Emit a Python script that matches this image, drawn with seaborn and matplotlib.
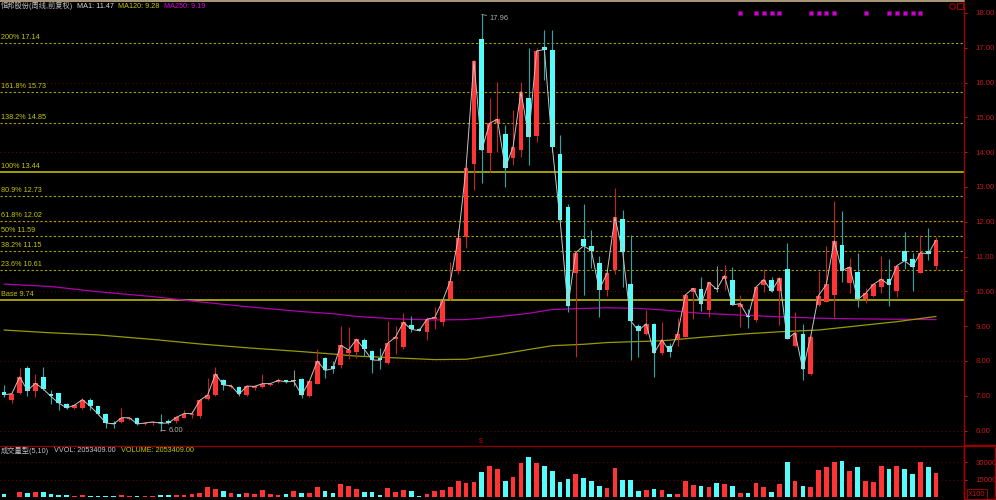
import numpy as np
import matplotlib
matplotlib.use("Agg")
import matplotlib.pyplot as plt
from matplotlib.lines import Line2D
from matplotlib.patches import Rectangle
import seaborn as sns

W, H = 996, 500

# weekly candles
opens = [7.12, 6.89, 7.09, 7.79, 7.15, 7.55, 7.04, 7.07, 6.75, 6.65,
         6.65, 6.89, 6.70, 6.49, 6.22, 6.25, 6.33, 6.36, 6.19, 6.21,
         6.25, 6.27, 6.27, 6.37, 6.46, 6.41, 6.92, 7.02, 7.44, 7.24,
         7.25, 7.01, 7.23, 7.25, 7.31, 7.39, 7.44, 7.42, 7.47, 6.99,
         7.35, 8.08, 7.85, 7.88, 8.24, 8.27, 8.60, 8.29, 8.10, 7.95,
         8.64, 8.40, 9.04, 8.93, 8.84, 9.20, 9.11, 9.78, 10.60, 11.55,
         13.65, 17.24, 13.97, 14.83, 14.52, 13.84, 14.06, 15.55, 14.47, 17.03,
         16.94, 13.95, 12.43, 10.54, 11.52, 11.31, 10.81, 10.03, 10.61, 12.07,
         10.20, 9.01, 8.79, 9.07, 8.22, 8.42, 8.63, 8.70, 9.97, 10.08,
         9.47, 10.06, 10.36, 10.33, 9.54, 9.30, 9.17, 10.17, 10.34, 10.00,
         10.64, 8.44, 8.77, 7.63, 9.61, 9.69, 9.90, 11.34, 10.25, 10.57,
         9.77, 9.87, 10.14, 10.35, 10.00, 11.15, 10.93, 10.54, 11.15, 10.73]
highs = [7.30, 7.09, 7.79, 7.86, 7.62, 7.83, 7.18, 7.09, 6.78, 6.76,
         6.94, 6.94, 6.70, 6.51, 6.27, 6.65, 6.39, 6.39, 6.24, 6.26,
         6.48, 6.32, 6.41, 6.60, 6.55, 6.90, 7.52, 7.83, 7.48, 7.33,
         7.28, 7.31, 7.31, 7.62, 7.38, 7.50, 7.46, 7.73, 7.50, 7.44,
         8.34, 8.12, 8.00, 9.01, 8.98, 8.65, 8.65, 8.31, 8.38, 9.15,
         9.00, 9.39, 9.30, 8.95, 9.25, 9.56, 9.78, 10.84, 11.78, 13.60,
         16.65, 17.96, 15.55, 16.03, 14.78, 15.21, 16.03, 16.98, 16.98, 17.51,
         17.51, 14.49, 12.51, 11.13, 12.51, 11.76, 11.02, 10.55, 12.96, 12.34,
         11.62, 9.06, 9.46, 9.09, 9.11, 8.51, 9.23, 9.91, 10.11, 10.42,
         10.28, 10.73, 10.76, 10.69, 9.90, 9.50, 10.14, 10.64, 10.41, 10.40,
         11.40, 9.41, 9.06, 8.75, 10.60, 11.30, 12.60, 12.32, 10.95, 11.11,
         10.11, 10.22, 11.02, 10.92, 10.77, 11.70, 11.10, 11.62, 11.82, 11.55]
lows = [6.97, 6.80, 7.06, 6.99, 6.97, 7.18, 6.75, 6.60, 6.63, 6.62,
        6.63, 6.60, 6.46, 6.08, 6.08, 6.22, 6.30, 6.15, 6.17, 6.16,
        6.00, 6.19, 6.22, 6.35, 6.36, 6.36, 6.89, 6.99, 7.18, 7.21,
        6.99, 6.99, 7.18, 7.23, 7.28, 7.37, 7.38, 7.27, 6.94, 6.96,
        7.33, 7.52, 7.65, 7.79, 8.05, 8.10, 8.14, 7.66, 7.76, 7.92,
        8.20, 8.34, 8.82, 8.85, 8.60, 8.91, 9.01, 9.75, 10.50, 11.24,
        12.91, 13.12, 13.44, 14.02, 13.01, 13.63, 13.87, 13.63, 14.30, 16.07,
        14.00, 12.00, 9.42, 8.12, 9.90, 10.68, 9.27, 9.88, 10.49, 10.14,
        8.04, 8.12, 8.76, 7.53, 8.18, 8.11, 8.42, 8.68, 9.20, 9.44,
        9.26, 9.99, 10.04, 9.60, 8.98, 8.94, 9.11, 9.98, 9.98, 9.03,
        8.62, 8.41, 7.46, 7.60, 9.59, 9.69, 9.26, 10.28, 9.96, 9.54,
        9.66, 9.85, 9.96, 9.58, 9.85, 10.64, 10.02, 10.52, 10.90, 10.62]
closes = [7.03, 7.06, 7.54, 7.15, 7.36, 7.20, 6.98, 6.79, 6.65, 6.73,
          6.89, 6.70, 6.48, 6.22, 6.19, 6.37, 6.37, 6.19, 6.22, 6.25,
          6.21, 6.22, 6.38, 6.49, 6.49, 6.87, 7.02, 7.63, 7.31, 7.29,
          7.04, 7.28, 7.27, 7.35, 7.35, 7.44, 7.40, 7.42, 7.02, 7.42,
          8.00, 7.73, 7.78, 8.45, 8.32, 8.62, 8.34, 8.03, 8.02, 8.51,
          8.69, 9.11, 8.91, 8.87, 9.20, 9.25, 9.73, 10.31, 11.53, 13.56,
          16.62, 14.06, 14.83, 14.95, 13.54, 14.16, 15.74, 14.45, 16.91, 16.95,
          14.16, 12.05, 9.58, 11.11, 11.31, 11.17, 10.05, 10.52, 12.13, 11.13,
          9.16, 8.87, 9.07, 8.22, 8.61, 8.27, 8.77, 9.90, 10.09, 9.63,
          10.26, 10.06, 10.45, 9.61, 9.65, 9.26, 10.12, 10.34, 10.00, 10.38,
          8.64, 8.81, 7.76, 8.70, 9.88, 10.20, 11.45, 10.60, 10.70, 9.77,
          9.94, 10.20, 10.35, 10.19, 10.74, 10.88, 10.70, 11.11, 11.08, 11.47]
# volume in hundreds of shares (axis says X100)
volumes = [2300, 300, 4600, 3500, 4300, 4300, 2300, 1400, 1400, 1150,
           1400, 900, 900, 900, 900, 1700, 1150, 900, 600, 900,
           1700, 1700, 1700, 1700, 2300, 3750, 8900, 6600, 5200, 3200,
           2300, 3750, 2900, 5800, 2900, 1400, 2600, 5200, 3500, 3750,
           8900, 5200, 3460, 11000, 9200, 6900, 4000, 4000, 2000, 7800,
           4600, 6000, 5200, 1150, 2300, 4900, 6000, 8650, 13800, 11800,
           13300, 21300, 27100, 24200, 13800, 17300, 29100, 34300, 29100, 27100,
           22500, 13300, 15900, 19600, 16700, 13800, 9800, 8100, 25100, 14700,
           14700, 5200, 6000, 6600, 6300, 2300, 2900, 14100, 10400, 9500,
           8400, 12400, 11000, 9800, 3460, 3200, 12400, 8400, 4300, 11250,
           30000, 13800, 9500, 8400, 23000, 25700, 30600, 31000, 22500, 25700,
           13800, 13300, 26500, 23900, 26500, 24200, 19600, 30000, 26200, 20534.09]

# long moving averages, read at a few candles
ma_idx = [0, 6, 12, 19, 25, 31, 38, 42, 45, 50, 55, 59, 63,
          67, 70, 74, 77, 81, 84, 89, 94, 99, 104, 109, 114, 119]
ma120 = [8.89, 8.81, 8.75, 8.62, 8.49, 8.38, 8.27, 8.20, 8.14, 8.09, 8.04, 8.05, 8.18,
         8.33, 8.44, 8.48, 8.53, 8.56, 8.58, 8.68, 8.77, 8.84, 8.89, 9.01, 9.13, 9.28]
ma250 = [10.21, 10.14, 9.99, 9.85, 9.70, 9.56, 9.42, 9.36, 9.28, 9.21, 9.18, 9.19, 9.27,
         9.37, 9.48, 9.51, 9.53, 9.51, 9.47, 9.37, 9.32, 9.27, 9.23, 9.21, 9.20, 9.19]

fib_names = ['200%', '161.8%', '138.2%', '100%', '80.9%', '61.8%', '50%', '38.2%', '23.6%', 'Base']
fib_levels = [17.14, 15.73, 14.85, 13.44, 12.73, 12.02, 11.59, 11.15, 10.61, 9.74]
solid_fibs = ['100%', 'Base']

price_ticks = [6, 7, 8, 9, 10, 11, 12, 13, 14, 15, 16, 17, 18]
grid_levels = [6, 8, 10, 12, 14, 16]
vol_ticks = [15000, 30000]
signal_idx = [94, 96, 97, 98, 99, 103, 104, 105, 106, 110, 113, 114, 115, 116, 117]
high_idx, low_idx = 61, 20

RED, CYAN, GRAY = '#ff3434', '#54fcfc', '#b4b4b4'
AXRED = '#c01818'
YEL = '#c8c800'

sns.set_style('dark', {'axes.facecolor': 'black', 'figure.facecolor': 'black'})
plt.rcParams['font.family'] = ['Liberation Sans', 'Noto Sans CJK SC', 'DejaVu Sans']

fig = plt.figure(figsize=(W / 100, H / 100), dpi=100, facecolor='black')


def fy(y):
    return 1 - y / H


ax = fig.add_axes([0, fy(445), 964 / W, 443 / H])
axv = fig.add_axes([0, fy(497), 964 / W, 52 / H], sharex=ax)

dx = (936 - 4) / 119
x_left = -4 / dx
ax.set_xlim(x_left, x_left + 964 / dx)
ax.set_ylim(18 - (445 - 13) / 34.8, 18 + 11 / 34.8)
axv.set_ylim(0, 30000 * 52 / 34.7)

for a in (ax, axv):
    a.set_facecolor('black')
    a.grid(False)
    for s in ('left', 'top', 'bottom'):
        a.spines[s].set_visible(False)
    a.spines['right'].set_color('#a00000')
    a.spines['right'].set_linewidth(1.0)
    a.tick_params(axis='x', bottom=False, labelbottom=False)
    a.yaxis.tick_right()
    a.tick_params(axis='y', colors=AXRED, labelsize=5.6, length=2.5, width=0.7, pad=6)

ax.set_yticks(price_ticks)
ax.set_yticklabels([f'{v:.2f}' for v in price_ticks])
axv.set_yticks(vol_ticks)
axv.set_yticklabels([str(v) for v in vol_ticks])

# grid and fibonacci levels
for g in grid_levels:
    ax.axhline(g, color='#700000', lw=0.7, ls=(0, (1, 3)), zorder=1)
for v in vol_ticks:
    axv.axhline(v, color='#700000', lw=0.7, ls=(0, (1, 3)), zorder=1)

for name, lev in zip(fib_names, fib_levels):
    if name in solid_fibs:
        ax.axhline(lev, color='#a0a000', lw=1.4, zorder=2)
    else:
        ax.axhline(lev, color='#a8a800', lw=0.8, ls=(0, (2, 2)), zorder=2)
    ax.annotate(f'{name} {lev:.2f}', xy=(x_left, lev), xytext=(1, 2), textcoords='offset pixels',
                color=YEL, fontsize=5.2, ha='left', va='bottom')

# moving averages
sns.lineplot(x=ma_idx, y=ma250, ax=ax, color='#b000b0', lw=0.9, zorder=2)
sns.lineplot(x=ma_idx, y=ma120, ax=ax, color='#9a9a00', lw=0.9, zorder=2)

# candles
o, c = np.array(opens), np.array(closes)
h, l = np.array(highs), np.array(lows)
idx = np.arange(len(c))
diff = c - o
prev = np.r_[c[0], c[:-1]]
up = np.where(np.abs(diff) > 0.005, diff > 0, c >= prev)
doji = np.abs(diff) < 0.005
body_col = np.where(doji, GRAY, np.where(up, RED, CYAN))
wick_col = np.where(doji, '#909090', np.where(up, '#c02424', '#28a8a8'))

ax.vlines(idx, l, h, colors=wick_col, lw=0.8, zorder=3)
ax.bar(idx, np.maximum(np.abs(diff), 0.03), bottom=np.minimum(o, c), width=0.6,
       color=body_col, linewidth=0, zorder=4)
sns.lineplot(x=idx, y=c, ax=ax, color='#c4c4c4', lw=0.7, zorder=5)

# high / low notes
ax.annotate(f'{highs[high_idx]:.2f}', xy=(high_idx, highs[high_idx]), xytext=(8, -4),
            textcoords='offset pixels', color='#b0b0b0', fontsize=5.4, ha='left', va='center',
            arrowprops=dict(arrowstyle='-', color='#a0a0a0', lw=0.6, shrinkA=0, shrinkB=0))
ax.annotate(f'{lows[low_idx]:.2f}', xy=(low_idx, lows[low_idx]), xytext=(8, 0),
            textcoords='offset pixels', color='#b0b0b0', fontsize=5.4, ha='left', va='center',
            arrowprops=dict(arrowstyle='-', color='#a0a0a0', lw=0.6, shrinkA=0, shrinkB=0))

# signal marks along the top
ax.scatter(signal_idx, [18.0] * len(signal_idx), marker='s', s=5, color='#d000d0',
           edgecolors='#800080', linewidths=0.4, zorder=6)

# volume bars
vol_col = np.where(up, RED, CYAN)
axv.bar(idx, volumes, width=0.6, color=vol_col, linewidth=0, zorder=3)

# panel frames
fig.add_artist(Line2D([0, 964 / W], [fy(0.8)] * 2, color='#c8b48c', lw=1.2))
fig.add_artist(Line2D([0, 1], [fy(445.5)] * 2, color='#8c0000', lw=1.0))
fig.add_artist(Rectangle((964 / W, fy(499)), 31 / W, 54 / H, fill=False,
                         edgecolor='#a00000', lw=1.0, transform=fig.transFigure))
fig.text(968 / W, fy(494), 'X100', color=AXRED, fontsize=5.4, ha='left', va='center',
         bbox=dict(boxstyle='square,pad=0.15', fc='black', ec='#a00000', lw=0.7))
fig.add_artist(Line2D([951.5 / W], [fy(6)], marker='o', ms=4, mfc='none', mec='#a00000',
                      mew=0.8, transform=fig.transFigure))
fig.add_artist(Line2D([960 / W], [fy(6)], marker='s', ms=4, mfc='none', mec='#a00000',
                      mew=0.8, transform=fig.transFigure))
fig.text(481 / W, fy(441), '$', color='#c00000', fontsize=5, ha='center', va='center')


def text_row(y, parts, x0=1, gap=4, size=5.2):
    # lay a row of coloured texts one after another
    renderer = fig.canvas.get_renderer()
    x = x0
    for s, col in parts:
        t = fig.text(x / W, fy(y), s, color=col, fontsize=size, va='center', ha='left')
        x = t.get_window_extent(renderer).x1 + gap


vol_txt = f'{volumes[-1] * 100:.2f}'
text_row(6, [('恒邦股份(周线,前复权)', '#c0c0c0'), (f'MA1: {closes[-1]:.2f}', '#d8d8d8'),
             (f'MA120: {ma120[-1]:.2f}', YEL), (f'MA250: {ma250[-1]:.2f}', '#e000e0')])
text_row(451, [('成交量型(5,10)', '#c0c0c0'), (f'VVOL: {vol_txt}', '#c8c8c8'),
               (f'VOLUME: {vol_txt}', YEL)], gap=5)

fig.savefig('out.png', dpi=100, facecolor='black')
